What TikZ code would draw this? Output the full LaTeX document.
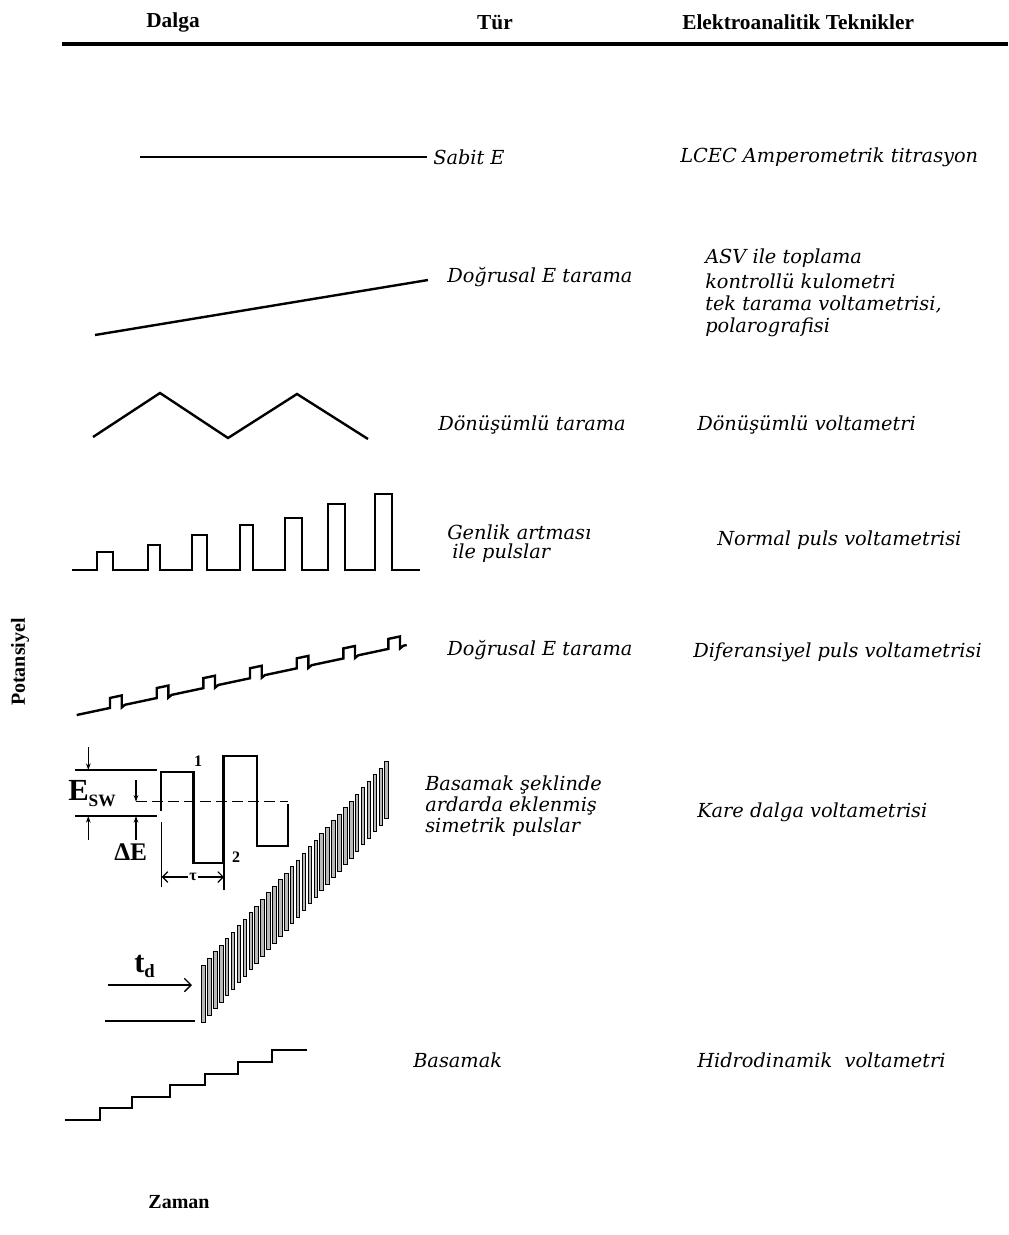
\documentclass[tikz,border=0pt]{standalone}
\usepackage{fontspec}
\setmainfont{Liberation Serif}
\newfontfamily\itf{DejaVu Serif}
\usetikzlibrary{arrows.meta}
\begin{document}
\begin{tikzpicture}[x=0.75pt,y=-0.75pt,
  wave/.style={line width=1.8pt, line join=miter},
  lbl/.style={anchor=west, inner sep=0pt, font=\itf\itshape\fontsize{14.5}{17}\selectfont},
  hdr/.style={inner sep=0pt, font=\bfseries\fontsize{16}{19}\selectfont},
  axl/.style={inner sep=0pt, font=\bfseries\fontsize{15}{18}\selectfont},
  dimline/.style={line width=0.9pt},
  sarrow/.style={line width=0.9pt, -{Stealth[length=5pt,width=3.5pt]}},
  bar/.style={fill=gray!55, draw=black, line width=0.7pt},
]
\useasboundingbox (0,0) rectangle (1008,1235);
\fill[white] (0,0) rectangle (1008,1235);

% header
\node[hdr] (h1) at (173,22) {Dalga};
\node[hdr] (h2) at (495,22) {Tür};
\node[hdr, anchor=west] (h3) at (682,22) {Elektroanalitik Teknikler};
\draw[line width=2.4pt] (62,44) -- (1008,44);

% axis labels
\node[axl, rotate=90] (pot) at (20,662) {Potansiyel};
\node[axl] (zam) at (179,1202) {Zaman};

% row 1
\draw[wave] (140,157) -- (427,157);
\node[lbl] (t1) at (433,157) {Sabit E};
\node[lbl] (r1) at (680,157) {LCEC Amperometrik titrasyon};

% row 2
\draw[wave] (95,335) -- (428,280);
\node[lbl] (t2) at (447,277) {Doğrusal E tarama};
\node[lbl] (r2a) at (705,258) {ASV ile toplama};
\node[lbl] (r2b) at (705,281) {kontrollü kulometri};
\node[lbl] (r2c) at (705,304) {tek tarama voltametrisi,};
\node[lbl] (r2d) at (705,327) {polarografisi};

% row 3
\draw[wave] (93,437) -- (160,393) -- (228,438) -- (297,394) -- (368,439);
\node[lbl] (t3) at (438,425) {Dönüşümlü tarama};
\node[lbl] (r3) at (697,425) {Dönüşümlü voltametri};

% row 4
\draw[wave] (72,570) -| (97,552) -| (113,570) -| (148,545) -| (160,570)
  -| (192,535) -| (207,570) -| (240,525) -| (253,570) -| (285,518) -| (302,570)
  -| (328,504) -| (345,570) -| (375,494) -| (392,570) -- (420,570);
\node[lbl] (t4a) at (447,532) {Genlik artması};
\node[lbl] (t4b) at (452,553) {ile pulslar};
\node[lbl] (r4) at (717,540) {Normal puls voltametrisi};

% row 5
\draw[wave] (76.7,715) foreach \a in {110,156.7,203.3,250,296.7,343.3,388.3} {
  -- (\a,{715-0.2121*(\a-76.7)}) -- ++(0,-10)
  -- ({\a+11.7},{715-0.2121*(\a+11.7-76.7)-10}) -- ++(0,12)
  -- ({\a+15},{715-0.2121*(\a+15-76.7)}) } -- (406.7,645);
\node[lbl] (t5) at (447,650) {Doğrusal E tarama};
\node[lbl] (r5) at (693,652) {Diferansiyel puls voltametrisi};

% row 6 : square wave
\draw[wave] (160.7,811) -- (160.7,771.7) -- (193.3,771.7) -- (193.3,862.7) -- (223.3,862.7)
  -- (223.3,755.7) -- (256.7,755.7) -- (256.7,846) -- (287.7,846) -- (287.7,804);
\draw[line width=1.1pt, dash pattern=on 8pt off 4pt] (136,801.7) -- (287.7,801.7);
\node[font=\bfseries\fontsize{12}{12}\selectfont, inner sep=0pt] (n1) at (198,761) {1};
\node[font=\bfseries\fontsize{12}{12}\selectfont, inner sep=0pt] (n2) at (236,857) {2};
\draw[dimline] (75,770) -- (157,770);
\draw[line width=1.8pt] (75,816) -- (157,816);
\draw[sarrow] (88.3,747) -- (88.3,770);
\draw[sarrow] (88.3,840) -- (88.3,816);
\draw[sarrow] (136,780) -- (136,801.7);
\draw[sarrow] (136,840) -- (136,816);
\node[anchor=base west, inner sep=0pt, font=\bfseries\fontsize{23}{24}\selectfont] (esw) at (68,800)
  {E\raisebox{-5pt}{\fontsize{13}{13}\selectfont SW}};
\node[anchor=base west, inner sep=0pt, font=\bfseries\fontsize{19}{21}\selectfont] (de) at (114,860) {ΔE};
% tau
\draw[dimline] (161.7,822) -- (161.7,887);
\draw[dimline] (224,863) -- (224,890);
\draw[dimline, {Straight Barb[length=4pt]}-{Straight Barb[length=4pt]}] (161.7,877) -- (224,877);
\node[fill=white, inner sep=1pt, font=\bfseries\fontsize{12}{12}\selectfont] (tau) at (193,877) {τ};
% ramp of pulses
\foreach \i in {0,...,31} {
  \pgfmathsetmacro\xx{201.7+\i*5.91}
  \pgfmathsetmacro\yy{965-\i*6.56}
  \path[bar] (\xx,\yy) rectangle ++(3.6,57);
}
\draw[line width=1pt, -{Straight Barb[length=5pt]}] (108,985) -- (192,985);
\draw[line width=1pt] (105,1021) -- (195,1021);
\node[anchor=base west, inner sep=0pt, font=\bfseries\fontsize{23}{24}\selectfont] (td) at (134,972)
  {t\raisebox{-4pt}{\fontsize{14}{14}\selectfont d}};
\node[lbl] (t6a) at (425,785) {Basamak şeklinde};
\node[lbl] (t6b) at (425,806) {ardarda eklenmiş};
\node[lbl] (t6c) at (425,827) {simetrik pulslar};
\node[lbl] (r6) at (697,812) {Kare dalga voltametrisi};

% row 7 : staircase
\draw[wave] (65,1120) -| (100,1108) -| (132,1097) -| (170,1085) -| (205,1074)
  -| (238,1062) -| (272,1050) -- (307,1050);
\node[lbl] (t7) at (413,1060) {Basamak};
\node[lbl] (r7) at (697,1060) {Hidrodinamik\ \ voltametri};
\end{tikzpicture}
\end{document}
